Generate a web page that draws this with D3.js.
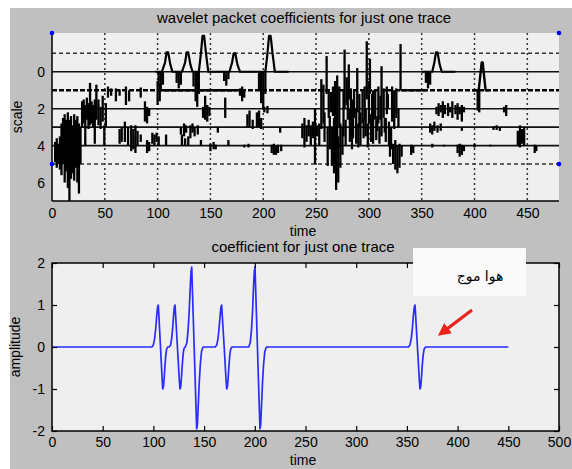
<!DOCTYPE html>
<html><head><meta charset="utf-8">
<script src="https://cdn.jsdelivr.net/npm/d3@7"></script>
<style>html,body{margin:0;padding:0;background:#fff;overflow:hidden}</style>
</head><body>
<svg id="c" width="572" height="469"></svg>
<script>
// ---------- DATA ----------
const topXTicks = [0,50,100,150,200,250,300,350,400,450];
const topYTicks = [0,2,4,6];
const solidLevels = [0,2,3,4];
const dashedLevels = [-1,5];
const boldDashedLevels = [1];
const cornerDots = [[0,-2.1],[480,-2.1],[0,5],[480,5]];
// level-0 trace segments (time, scale)
const level0Trace = [
  [[98,0],[104,0],[107,-0.5],[108.5,-1.05],[110,-1.05],[112,-0.4],[114,0],
   [123,0],[126,-0.5],[127.5,-1.05],[129,-1.05],[131,-0.4],[133,0],
   [139,0],[141,-1.0],[142.5,-1.95],[144,-1.95],[146,-0.9],[148,0],
   [168,0],[170.5,-0.5],[172,-1.0],[173.5,-1.0],[175.5,-0.4],[178,0],
   [202,0],[204,-1.0],[205.5,-1.95],[207,-1.95],[209,-0.9],[211,0],[224,0]],
  [[350,0],[360,0],[362,-0.5],[363.5,-1.05],[365,-1.05],[367,-0.4],[369,0],[382,0]]
];
const level1Trace = [
  [[100,1],[175,1]],
  [[330,1],[355,1]],
  [[398,1],[404,1],[405.5,0.2],[406.8,-0.5],[407.8,-0.5],[409,0.2],[410.5,1],[414,1]]
];
// dense coefficient bars: [time, top scale, bottom scale]
const coefBars = [
  [3,3.8,4.9],[4.5,3.6,5.2],[6,3.9,5.0],[7.5,3.5,5.3],[9,2.8,5.6],[10.5,2.5,5.0],[12,2.3,6.0],[13.5,2.6,5.4],
  [15,2.2,6.3],[16.5,2.6,7.0],[18,2.4,5.8],[19.5,2.9,5.5],[21,2.3,5.9],[22.5,2.6,5.2],[24,2.4,6.0],[25.5,2.8,6.6],[27,3.0,5.0],
  [28.5,1.6,3.0],[30,1.5,2.8],[31.5,1.8,4.0],[33,1.4,2.6],[34.5,1.7,3.1],[36,0.6,2.9],[37.5,1.6,2.8],[39,1.8,3.0],
  [40.5,1.5,3.9],[42,0.7,2.6],[44,1.5,2.9],[46,1.9,3.1],[48,1.3,2.7],[49.5,2.9,4.0],[51,1.7,3.0],
  [53,0.8,1.4],[56,0.9,1.3],[60.5,0.9,1.6],[64,0.95,1.3],[70,0.8,1.8],[73,1.0,1.6],[84,0.85,1.4],[100,0.5,1.8],[102,0.7,1.6],
  [88,1.6,2.7],[90,1.9,2.8],[92,2.0,2.4],
  [64,3.1,3.9],[66,3.0,3.8],[69,2.7,3.8],[72,3.0,4.0],[75,2.9,4.3],[77,3.1,4.2],[79,2.9,4.4],[81,3.2,4.0],[84,3.4,3.8],
  [90,3.7,4.4],[92,3.8,4.3],[95,3.3,3.9],[97,3.4,4.0],[99,3.3,3.8],[101,3.5,4.0],[108,3.4,4.0],
  [101,0,0.8],[103,0,1.0],[105,0,0.7],[118,0,0.6],[120,0,0.9],[122,0,0.7],[134,0,0.8],[136,0,1.6],[137.5,0,1.9],[139,0,1.2],
  [163,0,0.5],[165,0,0.75],[167,0,0.4],[196,0,1.0],[198,0,1.7],[200,0,2.0],[202,0,1.2],[354,0,0.6],[356,0,0.9],[358,0,0.7],
  [143,1.9,2.5],[145,1.3,2.6],[147,1.8,2.7],[149,1.9,2.4],[164,1.4,2.5],[178,0.9,1.3],[180,0.8,1.6],[182,1.0,1.4],[201,1.9,2.2],[204,1.85,2.25],
  [122,3.0,3.4],[125,2.8,3.5],[127,2.9,3.3],[131,2.9,3.6],[133,2.8,3.3],[135,3.0,3.5],[138,2.9,3.4],[157,3.0,3.3],
  [185,2.3,3.0],[187,2.1,3.0],[190,2.6,3.1],[194,2.2,3.0],[196,2.1,3.0],[198,2.5,3.1],[216,3.0,3.3],
  [123,3.4,4.0],[126,3.6,4.0],[129,3.5,4.0],[141,3.7,4.0],[150,3.9,4.3],[153,3.8,4.2],[155,3.95,4.2],[167,3.7,4.0],
  [182,3.95,4.1],[186,3.9,4.1],[208,3.95,4.4],[210,3.9,4.5],[212,4.0,4.5],[214,3.95,4.4],[217,3.95,4.3],
  [237,2.8,3.6],[239,2.5,4.1],[241,2.9,3.8],[243,2.6,3.5],[245,2.9,4.0],[247,2.7,3.6],[249,2.0,5.0],[251,2.9,3.5],[253,2.8,4.0],
  [255,0.4,3.1],[257,0.7,2.8],[258,2.2,3.8],[260,-0.85,1.2],[261,3.0,5.1],[262,1.0,2.5],[263,2.4,4.2],[264,1.1,2.2],[265,3.0,5.1],
  [266,0.8,2.4],[267,2.5,5.5],[268,0.5,3.5],[269,3.2,6.4],[270,0.2,4.0],[271,3.5,6.0],[272,0.8,3.0],[273,2.8,5.2],[275,3.0,4.5],
  [276,1.0,3.5],[277,-1.2,2.0],[278,2.6,4.0],[279,0.3,1.8],[280,1.1,2.6],[281,-0.4,1.5],[282,2.0,3.8],[283,0.9,3.0],[284,2.5,4.2],
  [285,1.5,3.6],[286,1.0,2.5],[288,2.0,3.9],[289,-0.2,2.2],[290,2.8,4.1],[291,1.2,3.0],[292,2.2,4.0],
  [294,1.0,2.8],[295,2.5,3.6],[296,0.8,2.6],[297,2.0,3.5],[298,-1.65,1.5],[299,2.8,4.1],[300,0.5,2.8],[301,-0.7,1.2],[302,2.3,3.8],
  [303,1.2,2.4],[304,1.0,3.9],[306,1.0,2.6],[307,2.6,3.7],[308,2.4,3.2],[309,0.8,2.8],[310,3.0,3.9],[311,1.3,2.6],[312,-0.3,3.5],
  [314,0.9,2.5],[315,2.5,3.3],[316,2.5,3.8],[317,0.8,2.3],[318,1.2,2.0],[319,2.7,4.0],
  [320,3.8,4.6],[321,3.0,4.2],[322,0.8,2.7],[323,3.9,5.0],[324,1.0,3.1],[325,3.7,5.3],[326,0.9,2.5],[327,4.0,5.5],[328,2.0,3.0],[329,3.9,5.2],
  [330,-1.5,1.0],[331,4.0,4.6],[340,3.95,4.5],[342,4.0,4.4],
  [358,2.8,3.3],[360,2.9,3.4],[362,2.7,3.2],[365,2.9,3.3],[368,2.8,3.2],
  [364,1.9,2.3],[366,1.7,2.4],[368,1.8,2.2],[370,1.6,2.5],[372,1.8,2.3],[375,1.7,2.4],[377,1.9,2.2],[379,1.6,2.5],
  [382,1.8,2.3],[384,1.7,2.6],[386,1.9,2.3],[388,1.8,2.7],[390,1.9,2.2],
  [360,3.9,4.1],[371,3.95,4.05],[384,3.95,4.4],[386,3.9,4.6],[388,3.95,4.5],[390,4.0,4.3],[388,3.0,3.2],[400,3.9,4.1],
  [403,1.0,2.1],[404.5,1.0,2.2],[418,2.95,3.15],[421,2.9,3.15],[424,3.0,3.2],[415,3.95,4.05],[428,1.9,2.2],[430,1.8,2.4],
  [441,3.2,4.0],[443,2.9,4.1],[445,3.1,3.9],[447,3.0,4.0],[457,3.95,4.4],[458.5,4.0,4.3]
];

const botXTicks = [0,50,100,150,200,250,300,350,400,450,500];
const botYTicks = [-2,-1,0,1,2];
const signalTime = [0,
  98.5,100,101.2,102.3,103.3,104.1,104.8,105.3,107,108.7,109.2,109.9,110.6,111.4,112.2,113,114,
  115.5,117,118,119,119.9,120.6,121.3,121.8,123.7,125.6,126.2,126.9,127.6,128.4,129.2,130,131,
  131.5,133,134.2,135.3,136.3,137.1,137.8,138.3,140.2,142.1,142.7,143.4,144.2,145.2,146.3,147.5,149,
  161,162.5,163.7,164.8,165.8,166.6,167.3,167.8,169.8,171.7,172.3,173,173.7,174.5,175.3,176.2,177.5,
  194,195.5,196.7,197.8,198.7,199.5,200.2,200.7,202.6,204.5,205.1,205.8,206.6,207.6,208.7,209.9,211.5,
  351.5,353,354.3,355.4,356.4,357.3,358,358.5,360.4,362.3,362.9,363.6,364.3,365.1,366,367,368.5,450];
const signalAmp = [0,
  0,0.05,0.2,0.45,0.75,0.95,1.0,0.8,0,-0.8,-1.0,-0.95,-0.75,-0.45,-0.2,-0.05,0,
  0,0.05,0.2,0.45,0.75,0.95,1.0,0.8,0,-0.8,-1.0,-0.95,-0.75,-0.45,-0.2,-0.05,0,
  0,0.1,0.4,0.85,1.4,1.8,1.9,1.5,0,-1.5,-1.95,-1.85,-1.4,-0.85,-0.4,-0.1,0,
  0,0.05,0.2,0.45,0.75,0.95,1.0,0.8,0,-0.8,-1.0,-0.95,-0.75,-0.45,-0.2,-0.05,0,
  0,0.1,0.4,0.85,1.4,1.8,1.9,1.5,0,-1.5,-1.95,-1.85,-1.4,-0.85,-0.4,-0.1,0,
  0,0.05,0.2,0.45,0.75,0.95,1.0,0.8,0,-0.8,-1.0,-0.95,-0.75,-0.45,-0.2,-0.05,0,0];

const topTitle = "wavelet packet coefficients for just one trace";
const botTitle = "coefficient for just one trace";
const noteText = "هوا موج";

// ---------- DRAW ----------
const FONT = "'Liberation Sans', Arial, Helvetica, sans-serif";
const fmt = d => String(d);
const svg = d3.select("#c");
svg.append("rect").attr("x",10).attr("y",8).attr("width",562).attr("height",461).attr("fill","#c0c0c0");

// ===== top plot =====
const xT = d3.scaleLinear().domain([0,480]).range([52,559]);
const yT = d3.scaleLinear().domain([-2.1,7]).range([33,201]);
svg.append("defs").append("clipPath").attr("id","clipT").append("rect")
  .attr("x",52).attr("y",33).attr("width",507).attr("height",168);
svg.append("rect").attr("x",52).attr("y",33).attr("width",507).attr("height",168).attr("fill","#efefef");
const gT = svg.append("g").attr("clip-path","url(#clipT)");

gT.selectAll(".vg").data(topXTicks.filter(d=>d>0)).join("line")
  .attr("x1",d=>xT(d)).attr("x2",d=>xT(d)).attr("y1",33).attr("y2",201)
  .attr("stroke","#333").attr("stroke-width",1.5).attr("stroke-dasharray","2,3");
gT.selectAll(".dl").data(dashedLevels).join("line")
  .attr("x1",52).attr("x2",559).attr("y1",d=>yT(d)).attr("y2",d=>yT(d))
  .attr("stroke","#333").attr("stroke-width",1.5).attr("stroke-dasharray","4,3");
gT.selectAll(".bl").data(boldDashedLevels).join("line")
  .attr("x1",52).attr("x2",559).attr("y1",d=>yT(d)).attr("y2",d=>yT(d))
  .attr("stroke","#000").attr("stroke-width",2.6).attr("stroke-dasharray","5,2");
gT.selectAll(".sl").data(solidLevels).join("line")
  .attr("x1",52).attr("x2",559).attr("y1",d=>yT(d)).attr("y2",d=>yT(d))
  .attr("stroke","#111").attr("stroke-width",1.6);

gT.selectAll(".bar").data(coefBars).join("line")
  .attr("x1",d=>xT(d[0])).attr("x2",d=>xT(d[0])).attr("y1",d=>yT(d[1])).attr("y2",d=>yT(d[2]))
  .attr("stroke","#000").attr("stroke-width",2.3);
const lineT = d3.line().x(d=>xT(d[0])).y(d=>yT(d[1]));
gT.selectAll(".t0").data(level0Trace).join("path").attr("d",lineT)
  .attr("fill","none").attr("stroke","#000").attr("stroke-width",2.2).attr("stroke-linejoin","round");
gT.selectAll(".t1").data(level1Trace).join("path").attr("d",lineT)
  .attr("fill","none").attr("stroke","#000").attr("stroke-width",2.4).attr("stroke-linejoin","round");

// axes lines
svg.append("line").attr("x1",52).attr("x2",52).attr("y1",33).attr("y2",201).attr("stroke","#000").attr("stroke-width",1.5);
svg.append("line").attr("x1",52).attr("x2",559).attr("y1",201).attr("y2",201).attr("stroke","#000").attr("stroke-width",1.5);

svg.selectAll(".cd").data(cornerDots).join("circle")
  .attr("cx",d=>xT(d[0])).attr("cy",d=>yT(d[1])).attr("r",2.3).attr("fill","#0000ff");

const axTB = svg.append("g").attr("transform","translate(0,201)")
  .call(d3.axisBottom(xT).tickValues(topXTicks).tickFormat(fmt).tickSizeInner(0).tickSizeOuter(0).tickPadding(7));
const axTL = svg.append("g").attr("transform","translate(52,0)")
  .call(d3.axisLeft(yT).tickValues(topYTicks).tickFormat(fmt).tickSizeInner(0).tickSizeOuter(0).tickPadding(7));
[axTB, axTL].forEach(g=>{
  g.select(".domain").remove();
  g.selectAll("text").attr("font-size",14).attr("font-family",FONT).attr("fill","#000");
});

svg.append("text").attr("x",304).attr("y",23).attr("text-anchor","middle")
  .attr("font-family",FONT).attr("font-size",15).text(topTitle);
svg.append("text").attr("x",303).attr("y",236).attr("text-anchor","middle")
  .attr("font-family",FONT).attr("font-size",14).text("time");
svg.append("text").attr("transform","translate(22,117) rotate(-90)").attr("text-anchor","middle")
  .attr("font-family",FONT).attr("font-size",14).text("scale");

// ===== bottom plot =====
const xB = d3.scaleLinear().domain([0,500]).range([52,559]);
const yB = d3.scaleLinear().domain([-2,2]).range([431,263]);
svg.append("rect").attr("x",52).attr("y",263).attr("width",507).attr("height",168).attr("fill","#efefef");
const sig = signalTime.map((t,i)=>[t,signalAmp[i]]);
svg.append("path").datum(sig)
  .attr("d",d3.line().x(d=>xB(d[0])).y(d=>yB(d[1])))
  .attr("fill","none").attr("stroke","#2b2bff").attr("stroke-width",1.7).attr("stroke-linejoin","round");

const axB = svg.append("g").attr("transform","translate(0,431)")
  .call(d3.axisBottom(xB).tickValues(botXTicks).tickFormat(fmt).tickSizeInner(-5).tickSizeOuter(0).tickPadding(6));
const axBT = svg.append("g").attr("transform","translate(0,263)")
  .call(d3.axisTop(xB).tickValues(botXTicks).tickSizeInner(-5).tickSizeOuter(0).tickFormat(""));
const axBL = svg.append("g").attr("transform","translate(52,0)")
  .call(d3.axisLeft(yB).tickValues(botYTicks).tickFormat(fmt).tickSizeInner(-5).tickSizeOuter(0).tickPadding(7));
const axBR = svg.append("g").attr("transform","translate(559,0)")
  .call(d3.axisRight(yB).tickValues(botYTicks).tickSizeInner(-5).tickSizeOuter(0).tickFormat(""));
[axB, axBT, axBL, axBR].forEach(g=>{
  g.select(".domain").remove();
  g.selectAll("line").attr("stroke","#000").attr("stroke-width",1.2);
  g.selectAll("text").attr("font-size",14).attr("font-family",FONT).attr("fill","#000");
});
svg.append("rect").attr("x",52).attr("y",263).attr("width",507).attr("height",168)
  .attr("fill","none").attr("stroke","#000").attr("stroke-width",1.5);

svg.append("text").attr("x",303).attr("y",252).attr("text-anchor","middle")
  .attr("font-family",FONT).attr("font-size",15).text(botTitle);
svg.append("text").attr("x",303).attr("y",465).attr("text-anchor","middle")
  .attr("font-family",FONT).attr("font-size",14).text("time");
svg.append("text").attr("transform","translate(20,347) rotate(-90)").attr("text-anchor","middle")
  .attr("font-family",FONT).attr("font-size",14).text("amplitude");

// annotation
svg.append("rect").attr("x",413).attr("y",248).attr("width",113).attr("height",48).attr("fill","#fafafa");
svg.append("text").attr("x",480).attr("y",281).attr("text-anchor","middle").attr("direction","rtl")
  .attr("font-family","'DejaVu Sans', 'Noto Sans', serif").attr("font-size",14).text(noteText);
svg.append("defs").append("marker").attr("id","ah").attr("viewBox","0 0 10 10").attr("refX",5).attr("refY",5)
  .attr("markerWidth",4).attr("markerHeight",4).attr("orient","auto")
  .append("path").attr("d","M0,0 L10,5 L0,10 z").attr("fill","#e8231b");
svg.append("line").attr("x1",472).attr("y1",310).attr("x2",443).attr("y2",332)
  .attr("stroke","#e8231b").attr("stroke-width",3.2).attr("marker-end","url(#ah)");
</script>
</body></html>
